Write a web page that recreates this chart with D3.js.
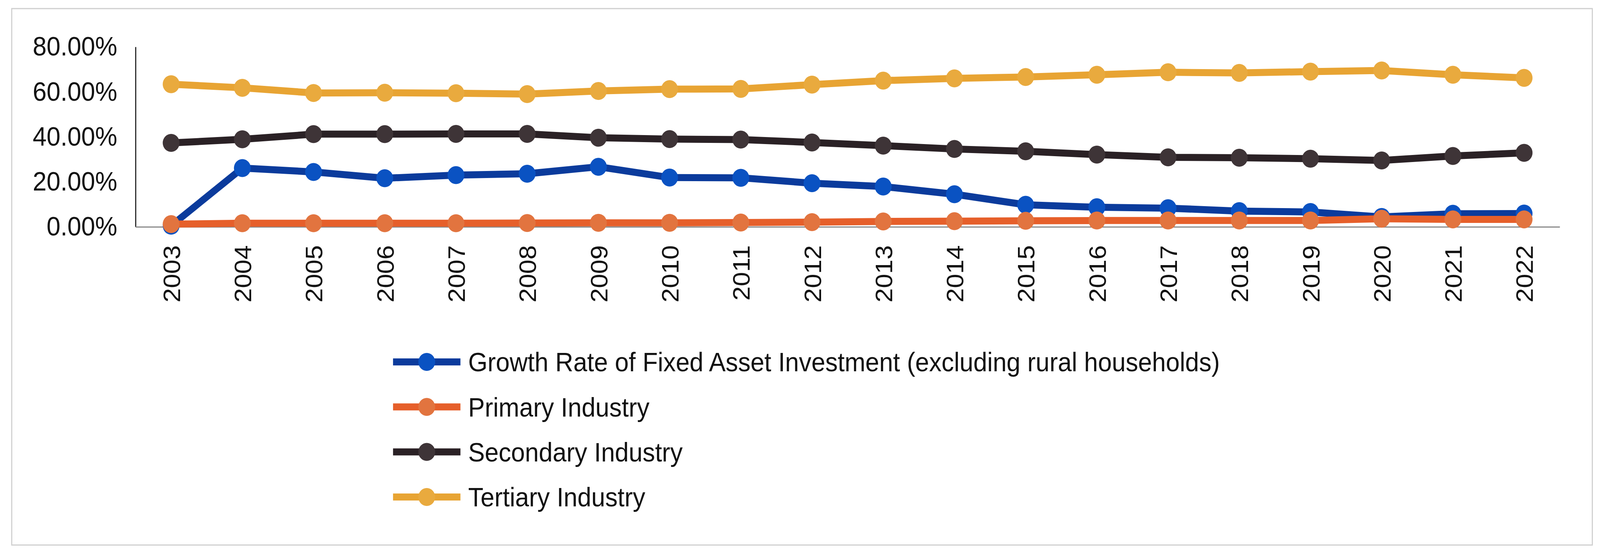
<!DOCTYPE html>
<html lang="en">
<head>
<meta charset="utf-8">
<title>Fixed asset investment by industry</title>
<script src="https://d3js.org/d3.v7.min.js"></script>
<style>
  html, body { margin: 0; padding: 0; background: #fff; overflow: hidden; }
  #chart svg { display: block; width: 100vw; height: 100vh; }
  text { font-family: "Liberation Sans", Arial, sans-serif; fill: #111; }
  .line { fill: none; stroke-width: 18px; stroke-linejoin: round; }
</style>
</head>
<body>
<div id="chart"></div>
<script>
var years = ["2003","2004","2005","2006","2007","2008","2009","2010","2011","2012",
             "2013","2014","2015","2016","2017","2018","2019","2020","2021","2022"];

// values in percent
var faiGrowth = [0.5, 26.1, 24.4, 21.6, 23.0, 23.6, 26.7, 21.9, 21.8, 19.4,
                 17.9, 14.5, 9.8, 8.7, 8.3, 7.0, 6.6, 4.4, 5.8, 5.9];
var primary   = [1.2, 1.6, 1.6, 1.6, 1.6, 1.7, 1.8, 1.8, 1.9, 2.1,
                 2.4, 2.5, 2.7, 2.8, 2.8, 2.8, 2.8, 3.6, 3.3, 3.3];
var secondary = [37.3, 38.9, 41.2, 41.2, 41.3, 41.3, 39.6, 39.0, 38.8, 37.5,
                 36.1, 34.6, 33.6, 32.1, 30.9, 30.7, 30.3, 29.5, 31.5, 32.9];
var tertiary  = [63.4, 61.8, 59.5, 59.6, 59.4, 59.0, 60.4, 61.2, 61.3, 63.2,
                 65.0, 66.0, 66.6, 67.6, 68.7, 68.4, 69.0, 69.5, 67.6, 66.2];

var seriesNames = ["Growth Rate of Fixed Asset Investment (excluding rural households)",
                   "Primary Industry", "Secondary Industry", "Tertiary Industry"];
var yTicks = [0, 0.2, 0.4, 0.6, 0.8];

var series = [
  {name: seriesNames[0], values: faiGrowth, line: "#0b3b9c", dot: "#0a52c2"},
  {name: seriesNames[1], values: primary,   line: "#e65f2a", dot: "#e2743f"},
  {name: seriesNames[2], values: secondary, line: "#2a2125", dot: "#3e3437"},
  {name: seriesNames[3], values: tertiary,  line: "#e8a433", dot: "#e9aa3e"}
];

var width = 4368, height = 1419;
var svg = d3.select("#chart").append("svg")
    .attr("viewBox", "0 0 " + width + " " + height)
    .attr("preserveAspectRatio", "none");

svg.append("rect")
    .attr("x", 32).attr("y", 22)
    .attr("width", 4315).attr("height", 1374)
    .attr("fill", "#fff")
    .attr("stroke", "#cfcfcf")
    .attr("stroke-width", 3);

var x = d3.scalePoint().domain(years).range([370, 4258]).padding(0.5);
var y = d3.scaleLinear().domain([0, 0.8]).range([581, 120]);

// y axis, no ticks, just the line and labels
var yAxis = svg.append("g")
    .attr("transform", "translate(370,0)")
    .call(d3.axisLeft(y).tickValues(yTicks).tickSize(0).tickPadding(50).tickFormat(d3.format(".2%")));
yAxis.select(".domain").attr("stroke", "#222").attr("stroke-width", 3);
yAxis.selectAll("text").style("font-size", "68px").style("font-family", "Liberation Sans, Arial, sans-serif").attr("fill", "#111");

// x axis with vertical year labels
var xAxis = svg.append("g")
    .attr("transform", "translate(0," + y(0) + ")")
    .call(d3.axisBottom(x).tickSize(0));
xAxis.select(".domain").attr("stroke", "#8a8a8a").attr("stroke-width", 3);
xAxis.selectAll("text")
    .attr("transform", "rotate(-90)")
    .attr("x", -47).attr("y", 0).attr("dy", "0.36em")
    .attr("text-anchor", "end")
    .attr("fill", "#111")
    .style("font-size", "66px")
    .style("font-family", "Liberation Sans, Arial, sans-serif");

var line = d3.line()
    .x(function(d, i) { return x(years[i]); })
    .y(function(d) { return y(d / 100); });

series.forEach(function(s) {
  var g = svg.append("g");
  g.append("path")
    .datum(s.values)
    .attr("class", "line")
    .attr("stroke", s.line)
    .attr("d", line);
  g.selectAll("circle")
    .data(s.values)
    .enter().append("circle")
    .attr("cx", function(d, i) { return x(years[i]); })
    .attr("cy", function(d) { return y(d / 100); })
    .attr("r", 23)
    .attr("fill", s.dot);
});

// legend
var legend = svg.append("g").attr("transform", "translate(1073,927)");
var item = legend.selectAll("g")
    .data(series)
    .enter().append("g")
    .attr("transform", function(d, i) { return "translate(0," + (i * 115.3) + ")"; });
item.append("line")
    .attr("x1", 0).attr("x2", 184)
    .attr("stroke", function(d) { return d.line; })
    .attr("stroke-width", 18);
item.append("circle")
    .attr("cx", 92).attr("r", 23)
    .attr("fill", function(d) { return d.dot; });
item.append("text")
    .attr("x", 205).attr("dy", "0.36em")
    .style("font-size", "68px")
    .text(function(d) { return d.name; });
</script>
</body>
</html>
